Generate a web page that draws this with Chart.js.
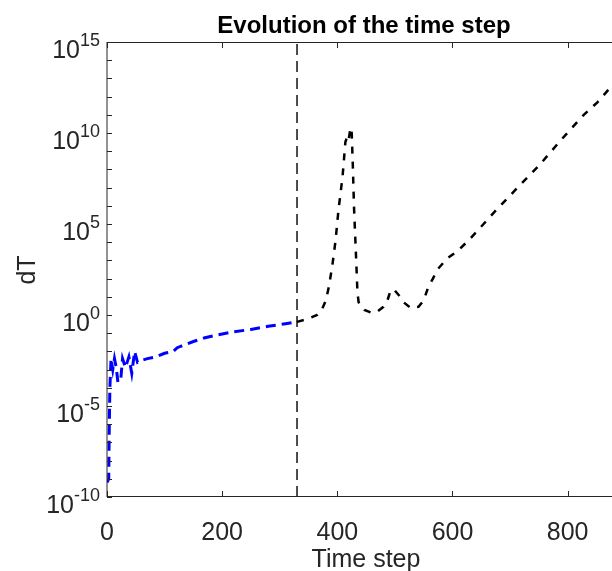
<!DOCTYPE html>
<html>
<head>
<meta charset="utf-8">
<title>Evolution of the time step</title>
<script src="https://cdn.jsdelivr.net/npm/chart.js@4.4.1/dist/chart.umd.min.js"></script>
<style>
  html, body { margin: 0; padding: 0; background: #fff; }
  canvas { display: block; }
</style>
</head>
<body>
<canvas id="dtChart" width="612" height="571"></canvas>
<script>
// time steps and dT, first phase (blue)
const blueSteps = [0, 3, 4, 5, 7, 10, 13, 16, 19, 24, 27, 32, 38, 43, 48, 53, 60, 70, 85, 100,
  115, 122, 130, 150, 170, 190, 220, 250, 280, 310, 330];
const blueDT = [6.3e-10, 1e-9, 1e-6, 1e-4, 4.0e-3, 1e-3, 4.0e-3, 1.3e-3, 2.0e-4, 3.2e-4, 4.0e-3,
  1.3e-3, 5.0e-3, 6.3e-4, 1.0e-2, 2.5e-3, 3.2e-3, 4.0e-3, 5.0e-3, 7.9e-3,
  1.0e-2, 1.6e-2, 2.0e-2, 3.5e-2, 5.6e-2, 7.9e-2, 0.12, 0.16, 0.24, 0.33, 0.42];

// second phase (black)
const blackSteps = [330, 350, 365, 372, 380, 385, 391, 397, 402, 409, 414, 418, 420, 423, 425,
  427, 429, 432, 435, 437, 447, 460, 470, 480, 487, 493, 500, 508, 515, 528, 541, 550, 558,
  566, 574, 591, 610, 631, 654, 671, 710, 750, 788, 828, 852, 877];
const blackDT = [0.42, 0.63, 1.0, 1.6, 6.3, 32, 440, 1.3e4, 5.9e5, 3.8e7, 3.2e9, 7.9e9, 5.0e9,
  2.0e10, 1.0e10, 1.3e8, 7.9e5, 4.0e3, 16, 5.0, 1.9, 1.3, 1.6, 2.8, 6.3, 25, 22, 11, 5.0, 2.4,
  2.8, 6.3, 35, 100, 320, 1.3e3, 3.5e3, 1.6e4, 1.0e5, 4.0e5, 7.9e6, 1.6e8, 4.0e9, 1.0e11,
  5.0e11, 4.0e12];

// switch between the two phases
const switchStep = 330;

const xTicks = [0, 200, 400, 600, 800];
const yTickExp = [-10, -5, 0, 5, 10, 15];

const X_MIN = 0, X_MAX = 877;
const Y_MIN = 1e-10, Y_MAX = 1e15;
const FONT = '"Liberation Sans", Arial, Helvetica, sans-serif';
const AXIS_COLOR = '#262626';

function toPoints(xs, ys) {
  return xs.map((x, i) => ({ x: x, y: ys[i] }));
}

// axes box, inward ticks and all labels
const axesPlugin = {
  id: 'matlabAxes',
  afterDatasetsDraw(chart) {
    const ctx = chart.ctx;
    const area = chart.chartArea;
    const xs = chart.scales.x;
    const ys = chart.scales.y;
    ctx.save();

    ctx.strokeStyle = AXIS_COLOR;
    ctx.lineWidth = 1;
    ctx.beginPath();
    ctx.moveTo(area.left, area.top + 0.5);
    ctx.lineTo(area.right, area.top + 0.5);
    ctx.moveTo(area.left, area.bottom - 0.5);
    ctx.lineTo(area.right, area.bottom - 0.5);
    ctx.moveTo(area.left, area.top);
    ctx.lineTo(area.left, area.bottom);
    ctx.stroke();

    // x ticks top and bottom
    ctx.beginPath();
    xTicks.forEach(v => {
      const px = Math.round(xs.getPixelForValue(v)) + 0.5;
      ctx.moveTo(px, area.bottom);
      ctx.lineTo(px, area.bottom - 6);
      ctx.moveTo(px, area.top);
      ctx.lineTo(px, area.top + 6);
    });
    // y ticks every decade
    for (let e = -10; e <= 15; e++) {
      const py = Math.round(ys.getPixelForValue(Math.pow(10, e))) + 0.5;
      ctx.moveTo(area.left, py);
      ctx.lineTo(area.left + 5, py);
    }
    ctx.stroke();

    ctx.fillStyle = AXIS_COLOR;
    ctx.textBaseline = 'alphabetic';

    // x tick labels
    ctx.font = '25px ' + FONT;
    ctx.textAlign = 'center';
    xTicks.forEach(v => {
      ctx.fillText(String(v), xs.getPixelForValue(v), area.bottom + 43);
    });

    // y tick labels as 10 with a raised exponent
    yTickExp.forEach(e => {
      const py = ys.getPixelForValue(Math.pow(10, e));
      ctx.font = '18px ' + FONT;
      const supW = ctx.measureText(String(e)).width;
      ctx.font = '25px ' + FONT;
      const baseW = ctx.measureText('10').width;
      const right = area.left - 7;
      ctx.textAlign = 'left';
      ctx.fillText('10', right - supW - baseW, py + 16);
      ctx.font = '18px ' + FONT;
      ctx.fillText(String(e), right - supW, py + 4);
    });

    // axis titles
    ctx.font = '25px ' + FONT;
    ctx.textAlign = 'center';
    ctx.fillText('Time step', 366, 567);
    ctx.save();
    ctx.translate(35, 270);
    ctx.rotate(-Math.PI / 2);
    ctx.fillText('dT', 0, 0);
    ctx.restore();

    ctx.font = 'bold 24px ' + FONT;
    ctx.fillStyle = '#000';
    ctx.fillText('Evolution of the time step', 364, 33);

    ctx.restore();
  }
};

const ctx = document.getElementById('dtChart').getContext('2d');
const chart = new Chart(ctx, {
  type: 'line',
  data: {
    datasets: [
      {
        data: [{ x: switchStep, y: Y_MIN }, { x: switchStep, y: Y_MAX }],
        borderColor: '#000',
        borderWidth: 1.4,
        borderDash: [11, 6]
      },
      {
        data: toPoints(blueSteps, blueDT),
        borderColor: 'rgb(0, 0, 255)',
        borderWidth: 3,
        borderDash: [10, 6]
      },
      {
        data: toPoints(blackSteps, blackDT),
        borderColor: '#000',
        borderWidth: 2.5,
        borderDash: [7, 8]
      }
    ]
  },
  options: {
    responsive: false,
    animation: false,
    layout: { padding: { left: 107, top: 42, right: 0, bottom: 74 } },
    plugins: {
      legend: { display: false },
      tooltip: { enabled: false },
      title: { display: false }
    },
    elements: {
      point: { radius: 0 },
      line: { tension: 0, fill: false }
    },
    scales: {
      x: { type: 'linear', min: X_MIN, max: X_MAX, display: false },
      y: { type: 'logarithmic', min: Y_MIN, max: Y_MAX, display: false }
    }
  },
  plugins: [axesPlugin]
});
</script>
</body>
</html>
